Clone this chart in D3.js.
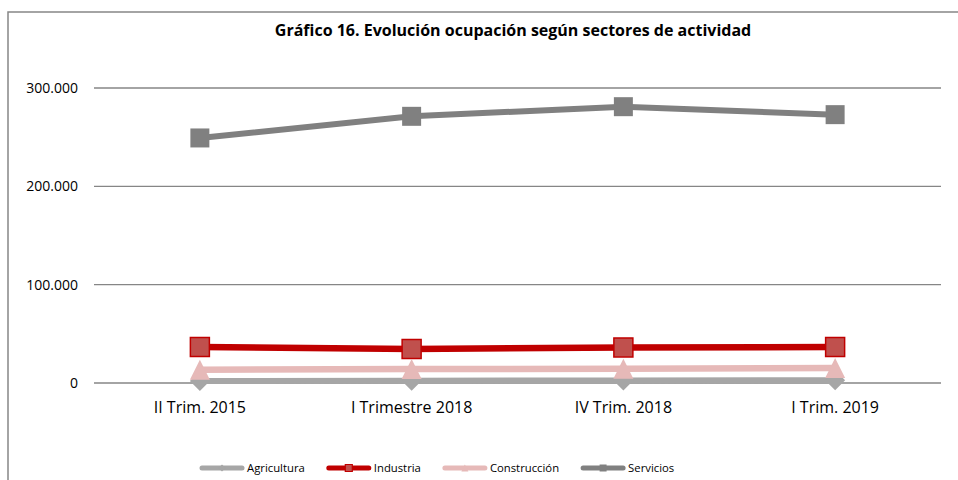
<!DOCTYPE html>
<html lang="es">
<head>
    <meta charset="UTF-8">
    <title>Gráfico 16. Evolución ocupación según sectores de actividad</title>
    <script src="https://d3js.org/d3.v7.min.js"></script>
    <style>
        body { margin: 0; background: #fff; }
        text { font-family: "Open Sans", sans-serif; fill: #000; }
        .title { font-size: 16px; font-weight: bold; }
        .x-label { font-size: 16px; }
        .y-label { font-size: 14px; }
        .legend-label { font-size: 11.3px; }
        .grid line { stroke: #868686; stroke-width: 1.3px; }
    </style>
</head>
<body>
    <svg width="958" height="480"></svg>

    <script>
        // Data
        const categories = ["II Trim. 2015", "I Trimestre 2018", "IV Trim. 2018", "I Trim. 2019"];
        const agricultura = [2000, 2300, 2600, 2900];
        const industria = [36600, 34600, 36200, 36600];
        const construccion = [13500, 14200, 14500, 15300];
        const servicios = [249200, 271200, 281000, 272900];
        const yTicks = [0, 100000, 200000, 300000];

        const series = [
            { name: "Agricultura", values: agricultura, color: "#A6A6A6", fill: "#A6A6A6", stroke: "#A6A6A6", width: 6, shape: "diamond" },
            { name: "Industria", values: industria, color: "#C00000", fill: "#C0504D", stroke: "#C00000", width: 6.5, shape: "square" },
            { name: "Construcción", values: construccion, color: "#E6B9B8", fill: "#E6B9B8", stroke: "#E6B9B8", width: 6.5, shape: "triangle" },
            { name: "Servicios", values: servicios, color: "#808080", fill: "#808080", stroke: "#808080", width: 6, shape: "square" }
        ];

        const svg = d3.select("svg");
        const margin = { left: 94, right: 17, top: 88, bottom: 97 };
        const width = 958 - margin.left - margin.right;

        // Outer frame (only left and top are visible in the picture)
        svg.append("path")
            .attr("d", "M8,480 V12 H958")
            .attr("fill", "none")
            .attr("stroke", "#878787")
            .attr("stroke-width", 1.5);

        const g = svg.append("g").attr("transform", `translate(${margin.left},${margin.top})`);

        const x = d3.scaleBand().domain(categories).range([0, width]);
        const y = d3.scaleLinear().domain([0, 300000]).range([295, 0]);

        // Gridlines
        g.append("g").attr("class", "grid")
            .selectAll("line").data(yTicks).enter().append("line")
            .attr("x1", 0).attr("x2", width)
            .attr("y1", d => y(d)).attr("y2", d => y(d));

        // Y tick labels
        const fmt = d => d === 0 ? "0" : d3.format(",")(d).replace(/,/g, ".");
        g.append("g").selectAll("text").data(yTicks).enter().append("text")
            .attr("class", "y-label")
            .attr("x", -16)
            .attr("y", d => y(d))
            .attr("dy", "0.35em")
            .attr("text-anchor", "end")
            .text(fmt);

        // X tick labels
        g.append("g").selectAll("text").data(categories).enter().append("text")
            .attr("class", "x-label")
            .attr("x", d => x(d) + x.bandwidth() / 2)
            .attr("y", y(0) + 30)
            .attr("text-anchor", "middle")
            .text(d => d);

        const symbolPath = (shape, size) => {
            const h = size / 2;
            if (shape === "square") return `M${-h},${-h}H${h}V${h}H${-h}Z`;
            if (shape === "diamond") return `M0,${-h}L${h},0L0,${h}L${-h},0Z`;
            return `M0,${-h}L${h},${h}L${-h},${h}Z`;
        };

        const line = d3.line()
            .x((d, i) => x(categories[i]) + x.bandwidth() / 2)
            .y(d => y(d));

        series.forEach(s => {
            g.append("path")
                .datum(s.values)
                .attr("fill", "none")
                .attr("stroke", s.color)
                .attr("stroke-width", s.width)
                .attr("d", line);

            g.append("g").selectAll("path").data(s.values).enter().append("path")
                .attr("transform", (d, i) => `translate(${x(categories[i]) + x.bandwidth() / 2},${y(d)})`)
                .attr("d", symbolPath(s.shape, s.shape === "square" ? 19 : 20))
                .attr("fill", s.fill)
                .attr("stroke", s.stroke)
                .attr("stroke-width", s.name === "Industria" ? 1.5 : 0);
        });

        // Title
        svg.append("text")
            .attr("class", "title")
            .attr("x", 513)
            .attr("y", 36)
            .attr("text-anchor", "middle")
            .text("Gráfico 16. Evolución ocupación según sectores de actividad");

        // Legend
        const legend = svg.append("g").attr("transform", "translate(200,468)");
        let lx = 0;
        series.forEach(s => {
            const item = legend.append("g").attr("transform", `translate(${lx},0)`);
            item.append("line")
                .attr("x1", 2).attr("x2", 42)
                .attr("stroke", s.color)
                .attr("stroke-width", 5)
                .attr("stroke-linecap", "round");
            item.append("path")
                .attr("transform", "translate(22,0)")
                .attr("d", symbolPath(s.shape, 7))
                .attr("fill", s.fill)
                .attr("stroke", s.stroke)
                .attr("stroke-width", s.name === "Industria" ? 1.2 : 0);
            const t = item.append("text")
                .attr("class", "legend-label")
                .attr("x", 47)
                .attr("dy", "0.35em")
                .text(s.name);
            lx += 47 + t.node().getComputedTextLength() + 22;
        });
    </script>
</body>
</html>
